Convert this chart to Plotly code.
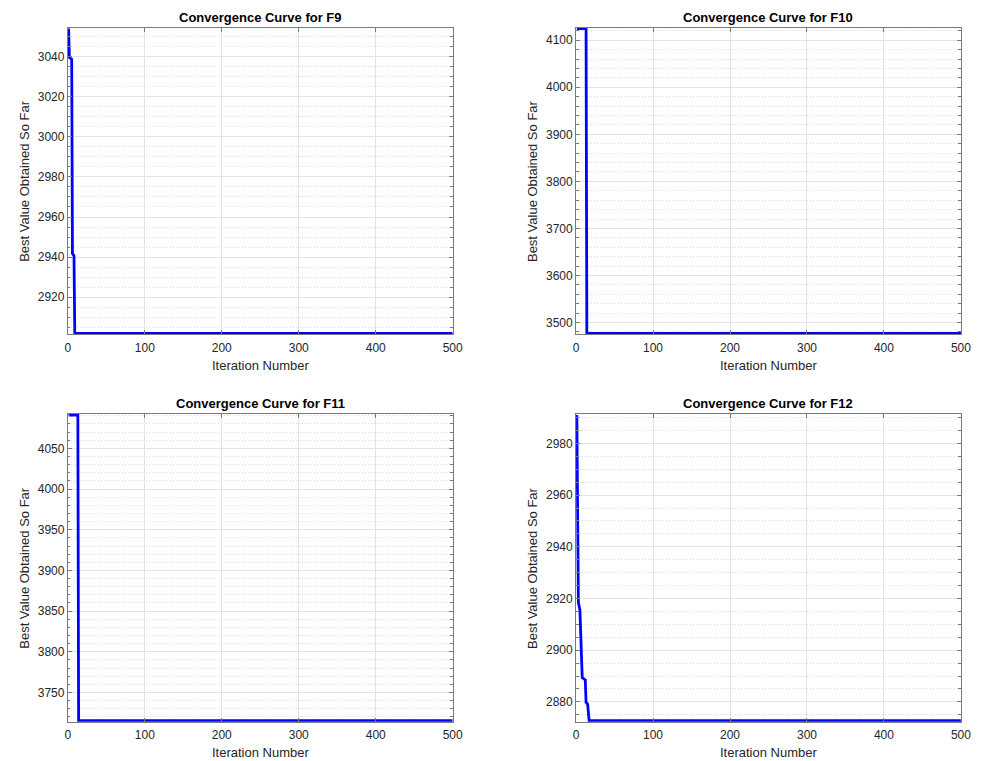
import plotly.graph_objects as go

# Convergence history: iteration numbers where the best value changes, and the best value there
f9_iter = [1, 2, 5, 6, 8, 9, 500]
f9_best = [3054, 3039.5, 3038.7, 2941.7, 2940.8, 2902, 2902]

f10_iter = [1, 13, 14, 500]
f10_best = [4125, 4125, 3477, 3477]

f11_iter = [1, 13, 14, 500]
f11_best = [4091, 4091, 3715.3, 3715.3]

f12_iter = [1, 3, 5, 8, 12, 13, 15, 17, 500]
f12_best = [2991, 2918.5, 2915.6, 2889.4, 2888.5, 2879.8, 2879.1, 2872.7, 2872.7]

titles = ["Convergence Curve for F9", "Convergence Curve for F10",
          "Convergence Curve for F11", "Convergence Curve for F12"]
y_major = [20, 100, 50, 20]
y_minor = [5, 20, 10, 5]

W, H = 988, 761
# plot-area boxes in pixels: (left, right, top, bottom)
boxes = [(65.7, 455.7, 27.5, 334.3), (580.7, 970.7, 27.5, 334.3),
         (65.7, 455.7, 414.0, 721.7), (580.7, 970.7, 414.0, 721.7)]

series = [(f9_iter, f9_best), (f10_iter, f10_best),
          (f11_iter, f11_best), (f12_iter, f12_best)]

FONT = "Liberation Sans, Arial, Helvetica, sans-serif"
AXC = "#7a7a7a"
TXT = "#262626"
LINE_W = 2.8

fig = go.Figure()
annotations = []
layout = {}
for i, ((xs, ys), (l, r, t, b)) in enumerate(zip(series, boxes)):
    n = "" if i == 0 else str(i + 1)
    fig.add_trace(go.Scatter(x=xs, y=ys, mode="lines",
                             line=dict(color="#0000ff", width=LINE_W),
                             xaxis="x" + n, yaxis="y" + n, showlegend=False,
                             hoverinfo="skip"))
    lo, hi = min(ys), max(ys)
    # keep the flat segments at the limits fully visible (about 1 px of headroom)
    pad = (hi - lo) / (b - t) * 1.0
    layout["xaxis" + n] = dict(
        domain=[l / W, r / W], range=[0, 500], dtick=100, tick0=0,
        anchor="y" + n, showline=True, linecolor=AXC, linewidth=1, mirror="ticks",
        ticks="inside", ticklen=4, tickcolor=AXC, showgrid=True,
        gridcolor="#e3e3e3", gridwidth=1, zeroline=False, ticklabelstandoff=2,
        tickfont=dict(family=FONT, size=12, color=TXT), fixedrange=True)
    layout["yaxis" + n] = dict(
        domain=[1 - b / H, 1 - t / H], range=[lo - pad, hi + pad],
        dtick=y_major[i], tick0=0,
        anchor="x" + n, showline=True, linecolor=AXC, linewidth=1, mirror="ticks",
        ticks="inside", ticklen=4, tickcolor=AXC, showgrid=True,
        gridcolor="#e3e3e3", gridwidth=1, zeroline=False,
        minor=dict(dtick=y_minor[i], tick0=0, ticks="inside", ticklen=2.5,
                   tickcolor=AXC, showgrid=True, gridcolor="#dadada",
                   griddash="1px,2px", gridwidth=1),
        tickfont=dict(family=FONT, size=12, color=TXT), fixedrange=True)
    cx = (l + r) / 2 / W
    annotations.append(dict(text="<b>" + titles[i] + "</b>", x=cx, y=1 - (t - 10.5) / H,
                            xref="paper", yref="paper", showarrow=False,
                            xanchor="center", yanchor="middle",
                            font=dict(family=FONT, size=13, color="#000000")))
    annotations.append(dict(text="Iteration Number", x=cx, y=1 - (b + 31) / H,
                            xref="paper", yref="paper", showarrow=False,
                            xanchor="center", yanchor="middle",
                            font=dict(family=FONT, size=13, color=TXT)))
    annotations.append(dict(text="Best Value Obtained So Far", x=(l - 43.5) / W,
                            y=1 - (t + b) / 2 / H, xref="paper", yref="paper",
                            showarrow=False, textangle=-90,
                            xanchor="center", yanchor="middle",
                            font=dict(family=FONT, size=13, color=TXT)))

fig.update_layout(width=W, height=H, autosize=False,
                  margin=dict(l=0, r=0, t=0, b=0, pad=0),
                  paper_bgcolor="white", plot_bgcolor="white",
                  annotations=annotations, **layout)

fig.write_html("out.html", config={"displayModeBar": False},
               post_script="document.body.style.margin='0';"
                           "document.body.style.overflow='hidden';")
